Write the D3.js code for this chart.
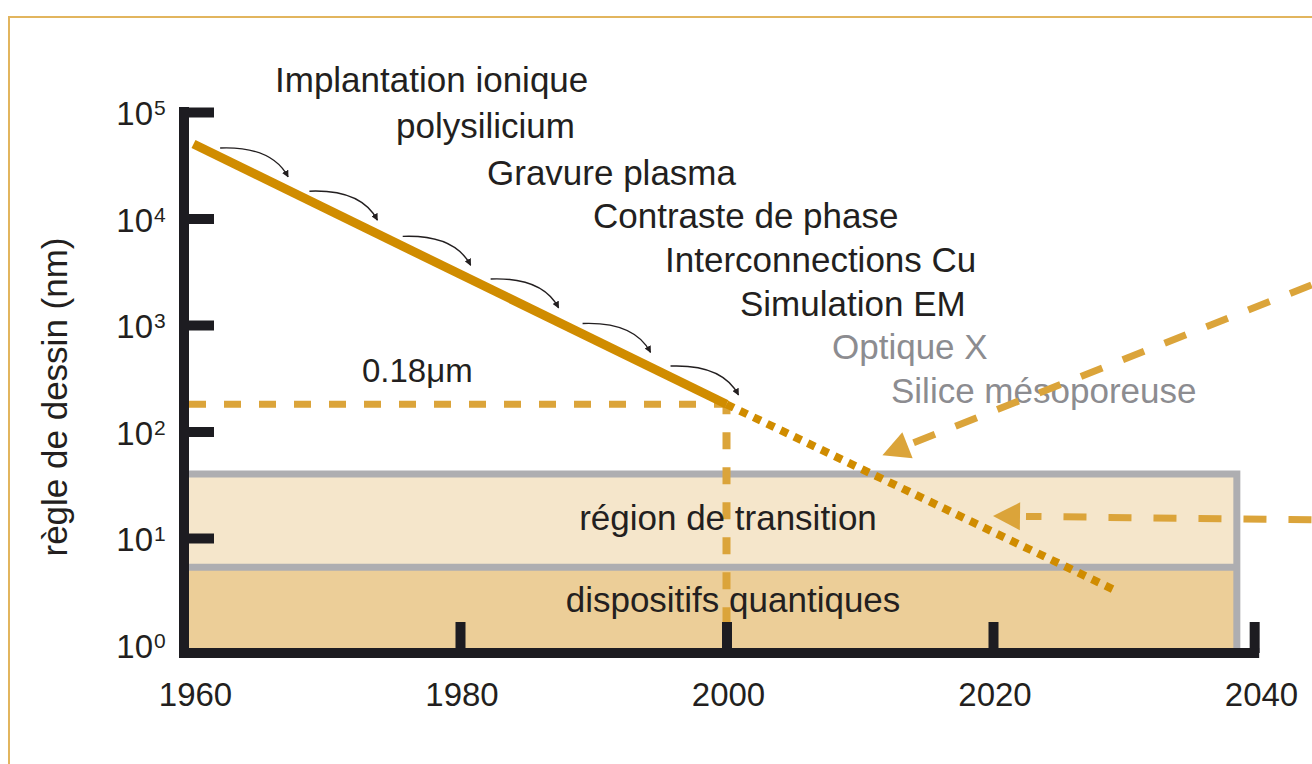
<!DOCTYPE html>
<html>
<head>
<meta charset="utf-8">
<script src="https://cdn.jsdelivr.net/npm/d3@7"></script>
<style>
  html, body { margin: 0; padding: 0; background: #ffffff; }
  svg { display: block; }
  text { font-family: "Liberation Sans", Arial, sans-serif; }
</style>
</head>
<body>
<svg id="chart" width="1312" height="764"></svg>
<script>
// ---------------- DATA ----------------
const xTickYears = [1960, 1980, 2000, 2020, 2040];
const yTickValues = [1, 10, 100, 1000, 10000, 100000];
const yTickExponents = ["0", "1", "2", "3", "4", "5"];

const trendYears = [1960, 2000];          // solid line
const trendNm = [50000, 180];
const projYears = [2000, 2029];           // dotted projection
const projNm = [180, 3.3];

const markerYear = 2000;
const markerNm = 180;
const markerLabel = "0.18μm";

const bandNames = ["région de transition", "dispositifs quantiques"];
const bandTopNm = [40, 5.3];
const bandBottomNm = [5.3, 0.84];
const bandEndYear = 2038.3;

const innovations = ["Implantation ionique", "polysilicium", "Gravure plasma",
  "Contraste de phase", "Interconnections Cu", "Simulation EM",
  "Optique X", "Silice mésoporeuse"];
const innovationDone = [true, true, true, true, true, true, false, false];

const stepStartYears = [1962.0, 1968.7, 1975.7, 1982.3, 1989.2, 1995.8];
const stepSpanYears = 5.1;

const diagArrowYears = [2043.9, 2011.7];
const diagArrowNm = [2376, 60];
const horizArrowYears = [2043.9, 2020.0];
const horizArrowNm = [14.8, 16.1];

const yTitle = "règle de dessin (nm)";

// ---------------- LAYOUT ----------------
const W = 1312, H = 764;
const svg = d3.select("#chart");
const x = d3.scaleLinear().domain([1960, 2040]).range([193.5, 1259.5]);
const y = d3.scaleLog().domain([1, 1e5]).range([644.5, 112]);

const axisX = 184, axisY = 653;
const C_AXIS = "#1d1c21", C_TEXT = "#231f20", C_GREY_TXT = "#8c8c90";
const C_LINE = "#d08c00", C_DASH = "#dba43a", C_BORDER = "#aeaeb1";
const C_LIGHT = "#f5e6cb", C_DARK = "#ecce98", C_FRAME = "#e2b55e";
const FONT = 35;

// frame
svg.append("rect").attr("x", 9).attr("y", 17).attr("width", 1400).attr("height", 900)
  .attr("fill", "none").attr("stroke", C_FRAME).attr("stroke-width", 2);

// ---------------- BANDS ----------------
const bandFill = [C_LIGHT, C_DARK];
const xL = axisX + 5, xR = x(bandEndYear);
bandNames.forEach((name, i) => {
  const top = y(bandTopNm[i]);
  const bot = i === 1 ? axisY - 5 : y(bandBottomNm[i]);
  svg.append("rect").attr("x", xL).attr("y", top).attr("width", xR - xL).attr("height", bot - top)
    .attr("fill", bandFill[i]);
});
// grey borders
const bTop = y(bandTopNm[0]), bMid = y(bandTopNm[1]);
svg.append("path")
  .attr("d", `M${xL},${bTop} H${xR} V${axisY - 5} M${xL},${bMid} H${xR}`)
  .attr("fill", "none").attr("stroke", C_BORDER).attr("stroke-width", 7)
  .attr("stroke-linejoin", "miter").attr("stroke-linecap", "square");

// ---------------- 0.18 µm marker lines ----------------
const mx = x(markerYear), my = y(markerNm);
svg.append("line").attr("x1", axisX + 5).attr("y1", my).attr("x2", mx).attr("y2", my)
  .attr("stroke", C_DASH).attr("stroke-width", 7).attr("stroke-dasharray", "17,18");
svg.append("line").attr("x1", mx).attr("y1", my).attr("x2", mx).attr("y2", axisY)
  .attr("stroke", C_DASH).attr("stroke-width", 8).attr("stroke-dasharray", "17,18")
  .attr("stroke-dashoffset", 7);
svg.append("text").attr("x", 362).attr("y", 382).attr("font-size", 33)
  .attr("fill", C_TEXT).text(markerLabel);

// ---------------- band labels ----------------
svg.append("text").attr("x", 728).attr("y", 530).attr("text-anchor", "middle")
  .attr("font-size", FONT).attr("fill", C_TEXT).text(bandNames[0]);
svg.append("text").attr("x", 733).attr("y", 612).attr("text-anchor", "middle")
  .attr("font-size", FONT).attr("fill", C_TEXT).text(bandNames[1]);

// ---------------- trend lines ----------------
const lineGen = d3.line().x(d => x(d[0])).y(d => y(d[1]));
svg.append("path").attr("d", lineGen(d3.zip(trendYears, trendNm)))
  .attr("fill", "none").attr("stroke", C_LINE).attr("stroke-width", 9);
svg.append("path").attr("d", lineGen(d3.zip(projYears, projNm)))
  .attr("fill", "none").attr("stroke", C_LINE).attr("stroke-width", 8)
  .attr("stroke-dasharray", "8,7");

// ---------------- innovation labels ----------------
const labelX = [275, 396, 487, 593, 665, 740, 832, 891];
const labelY = [92, 138, 185, 228, 272, 316, 359, 403];
innovations.forEach((t, i) => {
  svg.append("text").attr("x", labelX[i]).attr("y", labelY[i])
    .attr("font-size", FONT).attr("fill", innovationDone[i] ? C_TEXT : C_GREY_TXT).text(t);
});

// ---------------- small curved arrows ----------------
const defs = svg.append("defs");
defs.append("marker").attr("id", "ah").attr("viewBox", "0 0 10 10")
  .attr("refX", 9).attr("refY", 5).attr("markerWidth", 7).attr("markerHeight", 7)
  .attr("markerUnits", "userSpaceOnUse").attr("orient", "auto")
  .append("path").attr("d", "M0,0 L10,5 L0,10 Z").attr("fill", C_TEXT);

const logInterp = d3.scaleLinear().domain([trendYears[0], projYears[1]])
  .range([Math.log10(trendNm[0]), Math.log10(projNm[1])]);
stepStartYears.forEach(a => {
  const b = a + stepSpanYears;
  const sx = x(a), sy = y(Math.pow(10, logInterp(a))) - 9;
  const tx = x(b), ty = y(Math.pow(10, logInterp(b))) - 13;
  const dx = tx - sx;
  const cx = sx + 0.76 * dx, cy = sy - 2;
  svg.append("path").attr("d", `M${sx},${sy} Q${cx},${cy} ${tx},${ty}`)
    .attr("fill", "none").attr("stroke", C_TEXT).attr("stroke-width", 1.4)
    .attr("marker-end", "url(#ah)");
});

// ---------------- big dashed arrows ----------------
function bigArrow(years, nms) {
  const x0 = x(years[0]), y0 = y(nms[0]);
  const x1 = x(years[1]), y1 = y(nms[1]);
  const len = Math.hypot(x1 - x0, y1 - y0);
  const ux = (x1 - x0) / len, uy = (y1 - y0) / len;
  const headL = 27, headW = 14;
  const bx = x1 - ux * headL, by = y1 - uy * headL;
  svg.append("line").attr("x1", x0).attr("y1", y0).attr("x2", bx - ux * 6).attr("y2", by - uy * 6)
    .attr("stroke", C_DASH).attr("stroke-width", 7).attr("stroke-dasharray", "23,22");
  svg.append("path")
    .attr("d", `M${x1},${y1} L${bx - uy * headW},${by + ux * headW} L${bx + uy * headW},${by - ux * headW} Z`)
    .attr("fill", C_DASH);
}
bigArrow(diagArrowYears, diagArrowNm);
bigArrow(horizArrowYears, horizArrowNm);

// ---------------- axes ----------------
const gY = svg.append("g").attr("transform", `translate(${axisX},0)`)
  .call(d3.axisRight(y).tickValues(yTickValues.slice(1)).tickSize(30).tickSizeOuter(0).tickFormat(""));
gY.select(".domain").remove();
gY.selectAll(".tick line").attr("stroke", C_AXIS).attr("stroke-width", 10);

const gX = svg.append("g").attr("transform", `translate(0,${axisY})`)
  .call(d3.axisTop(x).tickValues([1980, 2000, 2020, 2039.6]).tickSize(31).tickSizeOuter(0).tickFormat(""));
gX.select(".domain").remove();
gX.selectAll(".tick line").attr("stroke", C_AXIS).attr("stroke-width", 10);

svg.append("line").attr("x1", axisX).attr("y1", 107).attr("x2", axisX).attr("y2", axisY + 5)
  .attr("stroke", C_AXIS).attr("stroke-width", 10);
svg.append("line").attr("x1", axisX - 5).attr("y1", axisY).attr("x2", x(2039.6) + 5).attr("y2", axisY)
  .attr("stroke", C_AXIS).attr("stroke-width", 10);

// y tick labels (10 with superscript)
yTickValues.forEach((v, i) => {
  const ty = y(v) + 13;
  svg.append("text").attr("x", 153).attr("y", ty).attr("text-anchor", "end")
    .attr("font-size", 33).attr("fill", C_TEXT).text("10");
  svg.append("text").attr("x", 154).attr("y", ty - 10).attr("text-anchor", "start")
    .attr("font-size", 21).attr("fill", C_TEXT).text(yTickExponents[i]);
});
// x tick labels
xTickYears.forEach(yr => {
  svg.append("text").attr("x", x(yr) + 2).attr("y", 706).attr("text-anchor", "middle")
    .attr("font-size", 33).attr("fill", C_TEXT).text(yr);
});

// y title
svg.append("text").attr("transform", "translate(67,397) rotate(-90)")
  .attr("text-anchor", "middle").attr("font-size", FONT).attr("fill", C_TEXT).text(yTitle);
</script>
</body>
</html>
